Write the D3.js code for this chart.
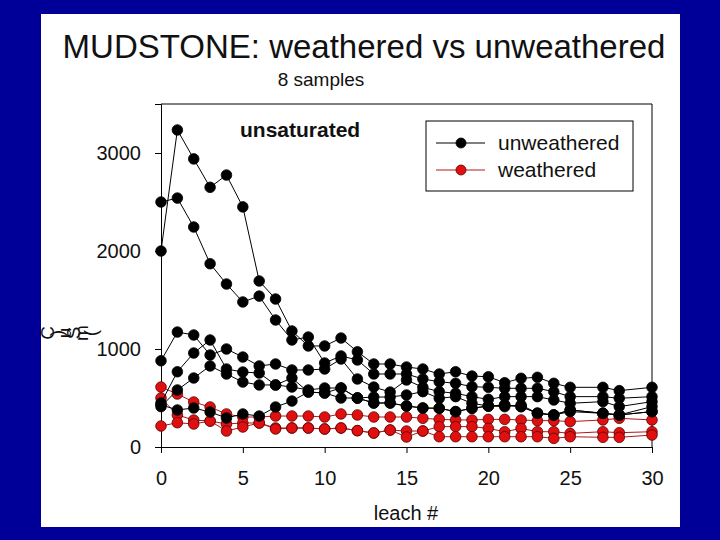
<!DOCTYPE html>
<html>
<head>
<meta charset="utf-8">
<script src="https://cdn.jsdelivr.net/npm/d3@7"></script>
<style>
  body { margin: 0; background: #000099; }
  svg { display: block; font-family: "Liberation Sans", Arial, sans-serif; }
</style>
</head>
<body>
<div id="chart"></div>
<script>
var leach = [0,1,2,3,4,5,6,7,8,9,10,11,12,13,14,15,16,17,18,19,20,21,22,23,24,25,27,28,30];

var unweathered = [
  [2000,3235,2940,2650,2775,2450,1694,1510,1184,1031,1031,1112,972,847,847,816,796,745,768,724,717,656,701,711,650,609,609,575,609],
  [2500,2540,2245,1870,1663,1480,1540,1296,1092,1122,857,929,888,745,745,745,694,666,650,616,609,599,599,599,565,514,514,497,514],
  [880,1173,1143,939,1000,918,827,847,786,786,796,898,694,612,561,684,609,565,548,514,486,514,514,514,480,446,463,412,463],
  [449,768,959,1092,796,765,755,633,612,582,602,602,500,510,510,531,565,497,514,446,418,429,412,344,327,378,344,327,361],
  [412,582,704,827,745,663,633,633,704,561,551,500,500,449,449,418,398,395,361,395,418,429,412,344,327,378,344,327,412],
  [430,378,398,357,296,337,316,408,469,561,551,602,500,449,449,418,398,395,361,395,418,412,429,344,327,361,344,327,361]
];

var weathered = [
  [612,541,459,408,337,306,306,316,316,316,306,337,327,306,306,306,293,282,276,276,282,282,276,269,269,259,276,293,276],
  [500,327,275,265,235,245,245,194,194,194,184,194,167,143,173,163,163,208,208,208,190,156,190,156,156,139,156,146,156],
  [214,248,235,265,163,204,245,184,194,194,184,194,167,143,173,102,163,105,105,105,105,105,105,105,88,105,99,99,122]
];

var xTicks = [0,5,10,15,20,25,30];
var yTicks = [0,1000,2000,3000];
var legendNames = ["unweathered","weathered"];
var yLabelChars = ["C",")","u","S","m","("];

var W = 720, H = 540;
var svg = d3.select("#chart").append("svg")
    .attr("width", W)
    .attr("height", H);

// white slide panel
svg.append("rect")
    .attr("x", 41).attr("y", 14)
    .attr("width", 639).attr("height", 513)
    .attr("fill", "#fff");

svg.append("text")
    .attr("x", 364).attr("y", 58)
    .attr("text-anchor", "middle")
    .attr("font-size", 33)
    .attr("fill", "#111")
    .text("MUDSTONE: weathered vs unweathered");

svg.append("text")
    .attr("x", 321).attr("y", 86)
    .attr("text-anchor", "middle")
    .attr("font-size", 19)
    .attr("fill", "#111")
    .text("8 samples");

var pLeft = 161, pRight = 652, pTop = 104, pBottom = 447;

var x = d3.scaleLinear().domain([0, 30]).range([pLeft, pRight]);
var y = d3.scaleLinear().domain([0, 3500]).range([pBottom, pTop]);

// frame
svg.append("path")
    .attr("d", "M" + pLeft + "," + pTop + "H" + pRight + "V" + pBottom)
    .attr("fill", "none")
    .attr("stroke", "#000")
    .attr("stroke-width", 1);

var xAxis = svg.append("g")
    .attr("transform", "translate(0," + pBottom + ")")
    .call(d3.axisBottom(x).tickValues(xTicks).tickSize(6).tickPadding(18));
var yAxis = svg.append("g")
    .attr("transform", "translate(" + pLeft + ",0)")
    .call(d3.axisLeft(y).tickValues(yTicks).tickFormat(d3.format("d")).tickSize(6).tickPadding(14));

[xAxis, yAxis].forEach(function(g) {
    g.select(".domain").attr("stroke", "#000");
    g.selectAll(".tick line").attr("stroke", "#000");
    g.selectAll(".tick text")
        .attr("font-size", 20)
        .attr("font-family", "Liberation Sans, Arial, sans-serif")
        .attr("fill", "#111");
});

svg.append("text")
    .attr("x", 406).attr("y", 520)
    .attr("text-anchor", "middle")
    .attr("font-size", 20)
    .attr("fill", "#111")
    .text("leach #");

// squashed y axis title
svg.selectAll(".ylab")
    .data(yLabelChars)
    .enter().append("text")
    .attr("class", "ylab")
    .attr("transform", function(d, i) { return "translate(" + (54 + i * 8.5) + ",333) rotate(-90)"; })
    .attr("text-anchor", "middle")
    .attr("font-size", 19)
    .attr("fill", "#111")
    .text(function(d) { return d; });

svg.append("text")
    .attr("x", 240).attr("y", 137)
    .attr("font-size", 21)
    .attr("font-weight", "bold")
    .attr("fill", "#111")
    .text("unsaturated");

var line = d3.line()
    .x(function(d, i) { return x(leach[i]); })
    .y(function(d) { return y(d); });

function drawGroup(data, lineColor, fill, stroke) {
    var g = svg.append("g");
    data.forEach(function(s) {
        g.append("path")
            .attr("d", line(s))
            .attr("fill", "none")
            .attr("stroke", lineColor)
            .attr("stroke-width", 1);
    });
    data.forEach(function(s) {
        g.selectAll(null)
            .data(s)
            .enter().append("circle")
            .attr("cx", function(d, i) { return x(leach[i]); })
            .attr("cy", function(d) { return y(d); })
            .attr("r", 5.3)
            .attr("fill", fill)
            .attr("stroke", stroke)
            .attr("stroke-width", 0.8);
    });
}

drawGroup(weathered, "#b01818", "#e01010", "#5a0000");
drawGroup(unweathered, "#000", "#000", "#000");

// legend
var legend = svg.append("g");
legend.append("rect")
    .attr("x", 426).attr("y", 121)
    .attr("width", 207).attr("height", 70)
    .attr("fill", "#fff")
    .attr("stroke", "#000")
    .attr("stroke-width", 1);

var legendStyle = [
    { line: "#000", fill: "#000", stroke: "#000" },
    { line: "#b01818", fill: "#e01010", stroke: "#5a0000" }
];
legendNames.forEach(function(name, i) {
    var ly = 143 + i * 27;
    legend.append("line")
        .attr("x1", 436).attr("x2", 485)
        .attr("y1", ly).attr("y2", ly)
        .attr("stroke", legendStyle[i].line);
    legend.append("circle")
        .attr("cx", 461).attr("cy", ly).attr("r", 5)
        .attr("fill", legendStyle[i].fill)
        .attr("stroke", legendStyle[i].stroke)
        .attr("stroke-width", 0.8);
    legend.append("text")
        .attr("x", 498).attr("y", ly + 7)
        .attr("font-size", 21)
        .attr("fill", "#111")
        .text(name);
});
</script>
</body>
</html>
